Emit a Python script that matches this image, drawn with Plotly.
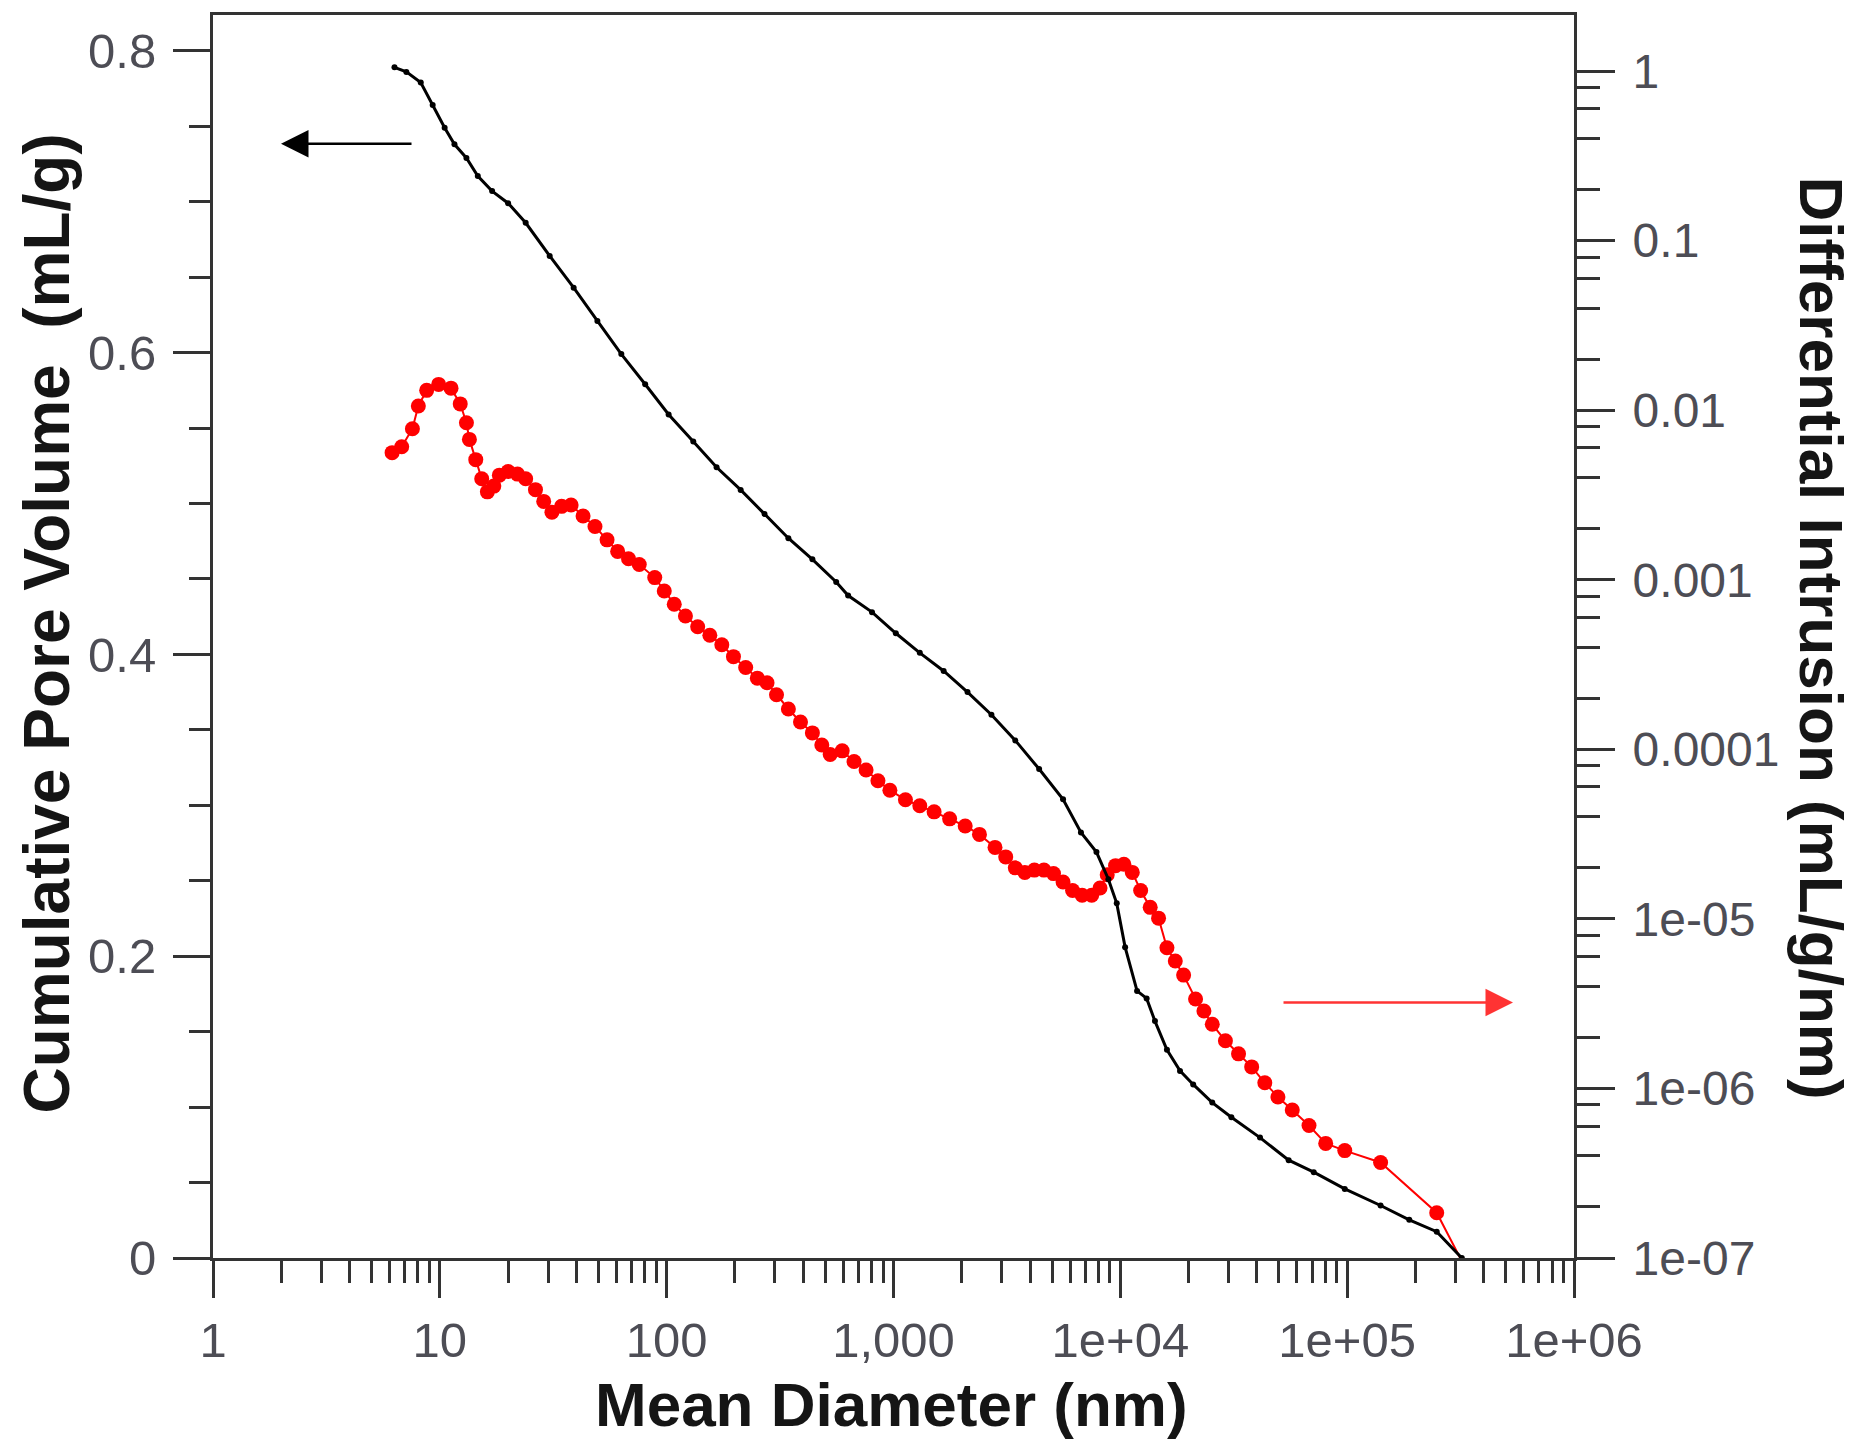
import plotly.graph_objects as go

# ---- data ----
# Cumulative pore volume (left axis, mL/g) vs mean diameter (nm)
cum_diam = [6.31, 7.12, 8.24, 9.30, 10.5, 11.6, 13.1, 14.7, 17.0, 20.0, 23.9, 30.5, 38.9, 49.5,
            63.1, 80.4, 102, 131, 166, 212, 270, 344, 439, 559, 631, 804, 1024, 1306, 1664,
            2120, 2702, 3443, 4386, 5590, 6704, 7848, 8858, 9643, 10497, 11850, 13060, 14210,
            16050, 18330, 20950, 25430, 30870, 41280, 55230, 71240, 97610, 140400, 187800,
            248200, 320200]
cum_vol = [0.789, 0.786, 0.779, 0.764, 0.749, 0.738, 0.729, 0.717, 0.707, 0.699, 0.686, 0.664,
           0.643, 0.621, 0.599, 0.579, 0.559, 0.541, 0.524, 0.509, 0.493, 0.477, 0.463, 0.448,
           0.439, 0.428, 0.414, 0.401, 0.389, 0.375, 0.360, 0.343, 0.324, 0.304, 0.282, 0.269,
           0.251, 0.235, 0.206, 0.177, 0.172, 0.157, 0.138, 0.124, 0.115, 0.103, 0.0933,
           0.0798, 0.0648, 0.0569, 0.0458, 0.0348, 0.0253, 0.0174, 0.0]

# Differential intrusion (right axis, mL/g/nm) vs mean diameter (nm)
diff_diam = [6.16, 6.79, 7.57, 8.04, 8.75, 9.88, 11.2, 12.3, 13.1, 13.5, 14.4, 15.3, 16.2, 17.3,
             18.3, 20.0, 22.0, 23.9, 26.4, 28.7, 31.2, 34.4, 37.9, 42.8, 48.3, 54.6, 60.8, 67.9,
             75.7, 88.6, 97.6, 108, 121, 137, 155, 175, 197, 223, 251, 277, 305, 344, 389, 439,
             483, 526, 594, 670, 757, 854, 964, 1129, 1306, 1510, 1768, 2070, 2393, 2802, 3124,
             3443, 3793, 4179, 4605, 5074, 5590, 6159, 6786, 7477, 8138, 8754, 9526, 10370,
             11290, 12290, 13540, 14740, 16050, 17470, 19010, 21460, 23360, 25430, 29060, 33200,
             37930, 43340, 49520, 57280, 67880, 80420, 97610, 140400, 248200, 328000]
diff_intr = [5.62e-3, 6.09e-3, 7.78e-3, 1.06e-2, 1.31e-2, 1.42e-2, 1.35e-2, 1.09e-2, 8.43e-3,
             6.73e-3, 5.11e-3, 3.94e-3, 3.30e-3, 3.57e-3, 4.14e-3, 4.35e-3, 4.20e-3, 3.94e-3,
             3.40e-3, 2.90e-3, 2.50e-3, 2.71e-3, 2.76e-3, 2.38e-3, 2.06e-3, 1.72e-3, 1.47e-3,
             1.33e-3, 1.23e-3, 1.03e-3, 8.59e-4, 7.18e-4, 6.11e-4, 5.28e-4, 4.71e-4, 4.14e-4,
             3.52e-4, 3.04e-4, 2.63e-4, 2.47e-4, 2.10e-4, 1.73e-4, 1.45e-4, 1.25e-4, 1.06e-4,
             9.33e-5, 9.80e-5, 8.47e-5, 7.55e-5, 6.53e-5, 5.74e-5, 5.04e-5, 4.65e-5, 4.28e-5,
             3.89e-5, 3.53e-5, 3.15e-5, 2.64e-5, 2.32e-5, 2.00e-5, 1.88e-5, 1.94e-5, 1.94e-5,
             1.85e-5, 1.65e-5, 1.47e-5, 1.38e-5, 1.38e-5, 1.52e-5, 1.82e-5, 2.06e-5, 2.10e-5,
             1.88e-5, 1.47e-5, 1.17e-5, 1.01e-5, 6.76e-6, 5.65e-6, 4.66e-6, 3.37e-6, 2.86e-6,
             2.39e-6, 1.91e-6, 1.60e-6, 1.34e-6, 1.08e-6, 8.91e-7, 7.46e-7, 6.04e-7, 4.74e-7,
             4.30e-7, 3.66e-7, 1.85e-7, 9.0e-8]

# tick labels
x_tickvals = [1, 10, 100, 1000, 1e4, 1e5, 1e6]
x_ticktext = ["1", "10", "100", "1,000", "1e+04", "1e+05", "1e+06"]
left_tickvals = [0, 0.2, 0.4, 0.6, 0.8]
left_ticktext = ["0", "0.2", "0.4", "0.6", "0.8"]
right_tickvals = [1e-7, 1e-6, 1e-5, 1e-4, 1e-3, 1e-2, 1e-1, 1]
right_ticktext = ["1e-07", "1e-06", "1e-05", "0.0001", "0.001", "0.01", "0.1", "1"]

# minor tick positions for the log axes
x_minor = [m * 10 ** k for k in range(0, 6) for m in range(2, 10)]          # 2..9 per decade
right_minor = [m * 10.0 ** k for k in range(-7, 0) for m in (2, 4, 6, 8)]    # 2,4,6,8 per decade

AX = "#333333"
LBL = "#4d4d55"
TITLE = "#151515"
NARROW = "Liberation Sans Narrow, Arial Narrow, Liberation Sans, Arial, sans-serif"
REG = "Liberation Sans, Arial, sans-serif"

fig = go.Figure()

fig.add_trace(go.Scatter(
    x=diff_diam, y=diff_intr, mode="lines+markers", yaxis="y", name="Differential Intrusion",
    line=dict(color="#ff0000", width=2), marker=dict(color="#ff0000", size=15),
    showlegend=False))

fig.add_trace(go.Scatter(
    x=cum_diam, y=cum_vol, mode="lines+markers", yaxis="y2", name="Cumulative Pore Volume",
    line=dict(color="#000000", width=3), marker=dict(color="#000000", size=6),
    showlegend=False))

fig.update_layout(
    width=1875, height=1445,
    margin=dict(l=213, r=301, t=12, b=187),
    paper_bgcolor="white", plot_bgcolor="white",
    xaxis=dict(
        type="log", range=[0, 6], showgrid=False, zeroline=False,
        showline=True, linecolor=AX, linewidth=3, mirror=True,
        ticks="outside", ticklen=37, tickwidth=2.5, tickcolor=AX,
        tickmode="array", tickvals=x_tickvals, ticktext=x_ticktext,
        tickfont=dict(family=NARROW, size=49, color=LBL),
        ticklabelstandoff=0,
        minor=dict(tickmode="array", tickvals=x_minor, ticks="outside", ticklen=22,
                   tickwidth=2.5, tickcolor=AX, showgrid=False),
    ),
    yaxis=dict(
        type="log", range=[-7, 0.331], side="right", showgrid=False, zeroline=False,
        showline=True, linecolor=AX, linewidth=3,
        ticks="outside", ticklen=38, tickwidth=2.5, tickcolor=AX,
        tickmode="array", tickvals=right_tickvals, ticktext=right_ticktext,
        tickfont=dict(family=REG, size=48, color=LBL),
        ticklabelstandoff=8,
        minor=dict(tickmode="array", tickvals=right_minor, ticks="outside", ticklen=23,
                   tickwidth=2.5, tickcolor=AX, showgrid=False),
    ),
    yaxis2=dict(
        overlaying="y", side="left", range=[0, 0.8237], showgrid=False, zeroline=False,
        showline=True, linecolor=AX, linewidth=3,
        ticks="outside", ticklen=37, tickwidth=2.5, tickcolor=AX,
        tickmode="array", tickvals=left_tickvals, ticktext=left_ticktext,
        tickfont=dict(family=NARROW, size=49, color=LBL),
        ticklabelstandoff=7,
        minor=dict(dtick=0.05, tick0=0, ticks="outside", ticklen=21,
                   tickwidth=2.5, tickcolor=AX, showgrid=False),
    ),
)

# axis titles
fig.add_annotation(text="Mean Diameter (nm)", xref="paper", yref="paper",
                   x=(891 - 213) / 1361, y=-(1405 - 1258) / 1246, showarrow=False,
                   xanchor="center", yanchor="middle",
                   font=dict(family=REG, size=62, color=TITLE, weight="bold"))
fig.add_annotation(text="Cumulative Pore Volume\u00a0\u00a0(mL/g)", xref="paper", yref="paper",
                   x=-(213 - 47) / 1361, y=1 - (622 - 12) / 1246, showarrow=False,
                   textangle=-90, xanchor="center", yanchor="middle",
                   font=dict(family=REG, size=64, color=TITLE, weight="bold"))
fig.add_annotation(text="Differential Intrusion (mL/g/nm)", xref="paper", yref="paper",
                   x=1 + (1822 - 1574) / 1361, y=1 - (636 - 12) / 1246, showarrow=False,
                   textangle=90, xanchor="center", yanchor="middle",
                   font=dict(family=REG, size=62, color=TITLE, weight="bold"))

# direction arrows
fig.add_annotation(x=(281 - 213) / 1361, y=1 - (141 - 12) / 1246, xref="paper", yref="paper",
                   ax=132, ay=0, axref="pixel", ayref="pixel", text="", showarrow=True,
                   arrowhead=2, arrowsize=2.2, arrowwidth=2.5, arrowcolor="#000000")
fig.add_annotation(x=(1513 - 213) / 1361, y=1 - (1002 - 12) / 1246, xref="paper", yref="paper",
                   ax=-231, ay=0, axref="pixel", ayref="pixel", text="", showarrow=True,
                   arrowhead=2, arrowsize=2.2, arrowwidth=2.5, arrowcolor="#ff3333")

fig.write_html("out.html")
